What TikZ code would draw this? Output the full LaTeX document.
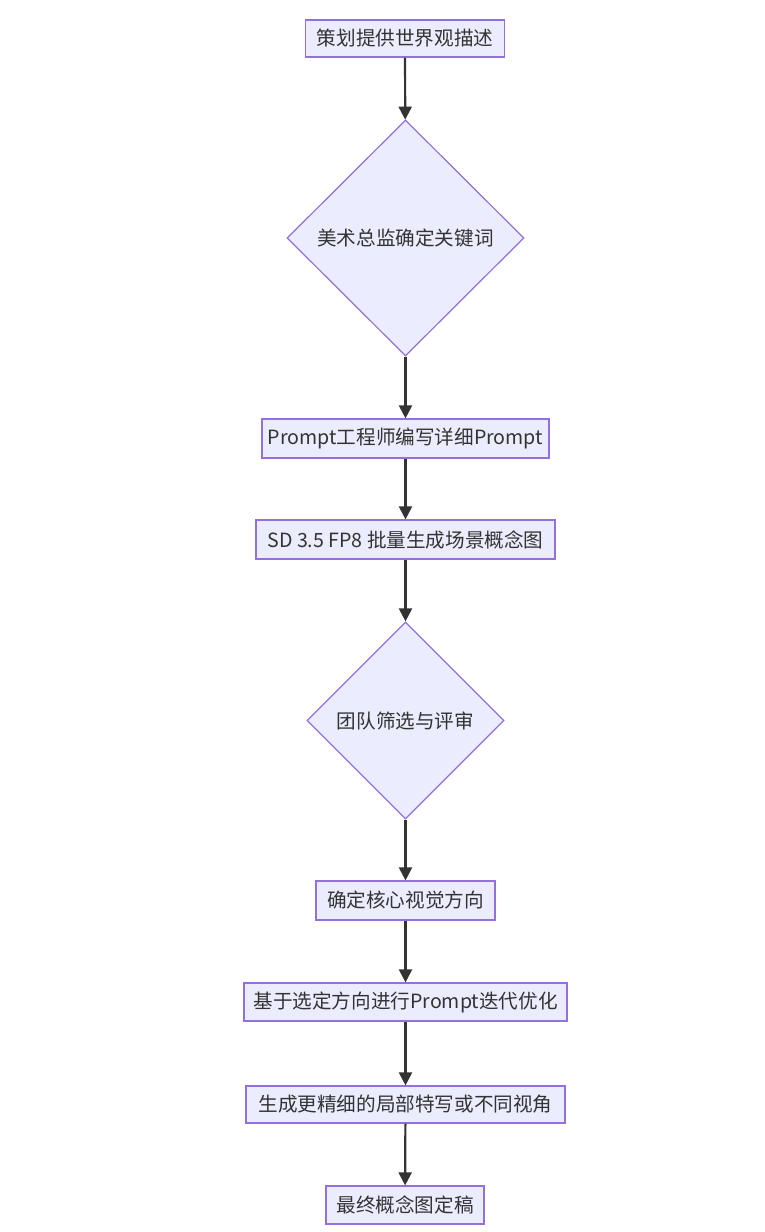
\documentclass[tikz,border=0pt]{standalone}
\usepackage{fontspec}
\setmainfont{Noto Sans CJK SC}
\usetikzlibrary{shapes.geometric,arrows.meta}
\definecolor{nodefill}{HTML}{ECECFF}
\definecolor{nodeline}{HTML}{9370DB}
\definecolor{arrowc}{HTML}{333333}
\definecolor{textc}{HTML}{333333}
\begin{document}
\begin{tikzpicture}[x=1pt,y=-1pt,
  box/.style={draw=nodeline,fill=nodefill,line width=1.2pt,inner sep=0pt,text=textc,font=\fontsize{19.6}{23}\selectfont},
  dia/.style={diamond,draw=nodeline,fill=nodefill,line width=1.2pt,inner sep=0pt,text=textc,font=\fontsize{19.6}{23}\selectfont},
  conn/.style={draw=arrowc,line width=2.2pt,-{Triangle[length=13pt,width=13pt]}}]
\useasboundingbox (0,0) rectangle (765,1232);
\node[box,minimum width=199pt,minimum height=37pt] (n1) at (405,38.5) {策划提供世界观描述};
\node[dia,minimum width=237pt,minimum height=236pt] (n2) at (405.5,238) {美术总监确定关键词};
\node[box,minimum width=287pt,minimum height=39pt] (n3) at (405.5,438.5) {Prompt工程师编写详细Prompt};
\node[box,minimum width=299pt,minimum height=39pt] (n4) at (405.5,539.5) {SD 3.5 FP8 批量生成场景概念图};
\node[dia,minimum width=197pt,minimum height=197pt] (n5) at (405.5,720.5) {团队筛选与评审};
\node[box,minimum width=179pt,minimum height=39pt] (n6) at (405.5,900.5) {确定核心视觉方向};
\node[box,minimum width=323pt,minimum height=38pt] (n7) at (405.5,1002) {基于选定方向进行Prompt迭代优化};
\node[box,minimum width=319pt,minimum height=37pt] (n8) at (405.5,1104.5) {生成更精细的局部特写或不同视角};
\node[box,minimum width=158pt,minimum height=38pt] (n9) at (405,1205) {最终概念图定稿};
\draw[conn] (n1) -- (n2);
\draw[conn] (n2) -- (n3);
\draw[conn] (n3) -- (n4);
\draw[conn] (n4) -- (n5);
\draw[conn] (n5) -- (n6);
\draw[conn] (n6) -- (n7);
\draw[conn] (n7) -- (n8);
\draw[conn] (n8) -- (n9);
\end{tikzpicture}
\end{document}
